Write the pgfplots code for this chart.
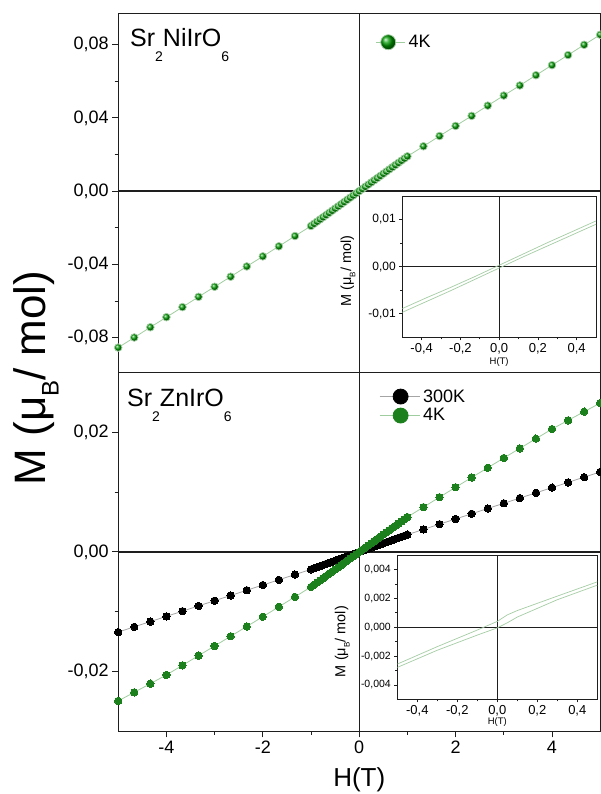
\documentclass[border=0pt]{standalone}
\usepackage{pgfplots}
\pgfplotsset{compat=1.18}
\usepackage{pgfplotstable}
\usepackage{fontspec}
\setmainfont{Liberation Sans}
\setsansfont{Liberation Sans}
\definecolor{ngreen}{RGB}{28,128,28}
\definecolor{bgreen}{RGB}{0,155,0}
\definecolor{lgreen}{RGB}{160,205,160}
\definecolor{igreen}{RGB}{165,205,165}
\definecolor{lgray}{RGB}{165,165,165}
\definecolor{axcol}{RGB}{30,30,30}

\pgfplotstableread{
H M
-5 -0.0854
-4.667 -0.0799
-4.333 -0.0743
-4 -0.0688
-3.667 -0.0633
-3.333 -0.0577
-3 -0.0522
-2.667 -0.0467
-2.333 -0.0411
-2 -0.0356
-1.667 -0.0301
-1.333 -0.0245
-1 -0.0190
-0.9375 -0.01781
-0.875 -0.01663
-0.8125 -0.01544
-0.75 -0.01425
-0.6875 -0.01306
-0.625 -0.01188
-0.5625 -0.01069
-0.5 -0.0095
-0.4375 -0.00831
-0.375 -0.00713
-0.3125 -0.00594
-0.25 -0.00475
-0.1875 -0.00356
-0.125 -0.00238
-0.0625 -0.00119
0 0
0.0625 0.00119
0.125 0.00238
0.1875 0.00356
0.25 0.00475
0.3125 0.00594
0.375 0.00713
0.4375 0.00831
0.5 0.0095
0.5625 0.01069
0.625 0.01188
0.6875 0.01306
0.75 0.01425
0.8125 0.01544
0.875 0.01663
0.9375 0.01781
1 0.0190
1.333 0.0245
1.667 0.0301
2 0.0356
2.333 0.0411
2.667 0.0467
3 0.0522
3.333 0.0577
3.667 0.0633
4 0.0688
4.333 0.0743
4.667 0.0799
5 0.0854
}\niK

\pgfplotstableread{
H M
-5 -0.01338
-4.667 -0.01251
-4.333 -0.01163
-4 -0.01076
-3.667 -0.00989
-3.333 -0.00901
-3 -0.00814
-2.667 -0.00727
-2.333 -0.00639
-2 -0.00552
-1.667 -0.00465
-1.333 -0.00377
-1 -0.0029
-0.9375 -0.00272
-0.875 -0.00254
-0.8125 -0.00236
-0.75 -0.00218
-0.6875 -0.00199
-0.625 -0.00181
-0.5625 -0.00163
-0.5 -0.00145
-0.4375 -0.00127
-0.375 -0.00109
-0.3125 -0.00091
-0.25 -0.00073
-0.1875 -0.00054
-0.125 -0.00036
-0.0625 -0.00018
0 0
0.0625 0.00018
0.125 0.00036
0.1875 0.00054
0.25 0.00073
0.3125 0.00091
0.375 0.00109
0.4375 0.00127
0.5 0.00145
0.5625 0.00163
0.625 0.00181
0.6875 0.00199
0.75 0.00218
0.8125 0.00236
0.875 0.00254
0.9375 0.00272
1 0.0029
1.333 0.00377
1.667 0.00465
2 0.00552
2.333 0.00639
2.667 0.00727
3 0.00814
3.333 0.00901
3.667 0.00989
4 0.01076
4.333 0.01163
4.667 0.01251
5 0.01338
}\znH

\pgfplotstableread{
H M
-5 -0.02489
-4.667 -0.02345
-4.333 -0.02200
-4 -0.02055
-3.667 -0.01894
-3.333 -0.01732
-3 -0.01571
-2.667 -0.01408
-2.333 -0.01245
-2 -0.01082
-1.667 -0.00916
-1.333 -0.0075
-1 -0.00584
-0.9375 -0.00548
-0.875 -0.00511
-0.8125 -0.00475
-0.75 -0.00438
-0.6875 -0.00402
-0.625 -0.00365
-0.5625 -0.00329
-0.5 -0.00292
-0.4375 -0.00256
-0.375 -0.00219
-0.3125 -0.00183
-0.25 -0.00146
-0.1875 -0.0011
-0.125 -0.00073
-0.0625 -0.00037
0 0
0.0625 0.00037
0.125 0.00073
0.1875 0.0011
0.25 0.00146
0.3125 0.00183
0.375 0.00219
0.4375 0.00256
0.5 0.00292
0.5625 0.00329
0.625 0.00365
0.6875 0.00402
0.75 0.00438
0.8125 0.00475
0.875 0.00511
0.9375 0.00548
1 0.00584
1.333 0.0075
1.667 0.00916
2 0.01082
2.333 0.01245
2.667 0.01408
3 0.01571
3.333 0.01732
3.667 0.01894
4 0.02055
4.333 0.02200
4.667 0.02345
5 0.02489
}\znK

\pgfplotsset{
  mainax/.style={
    scale only axis, width=482pt, height=359pt,
    xmin=-5, xmax=5,
    axis line style={axcol, line width=1.4pt},
    tick style={axcol, line width=1pt},
    tick align=outside, xtick pos=bottom, ytick pos=left,
    major tick length=6pt, minor tick length=3.5pt, minor tick num=1,
    tick label style={font=\fontsize{18}{18}\selectfont},
    scaled y ticks=false, scaled x ticks=false,
  },
  insetax/.style={
    scale only axis, xmin=-0.5, xmax=0.5,
    axis background/.style={fill=white},
    axis line style={axcol, line width=0.8pt},
    tick style={axcol, line width=0.6pt},
    tick align=outside, xtick pos=bottom, ytick pos=left,
    major tick length=3pt, minor tick length=2pt, minor tick num=1,
    xtick={-0.4,-0.2,0,0.2,0.4},
    xticklabels={{-0,4},{-0,2},{0,0},{0,2},{0,4}},
    xticklabel style={font=\fontsize{13}{13}\selectfont},
    scaled y ticks=false, scaled x ticks=false,
    xlabel={H(T)},
    xlabel style={font=\fontsize{9.5}{9.5}\selectfont, at={(axis description cs:0.5,-0.175)}, anchor=center},
  }
}

\begin{document}
\begin{tikzpicture}
\path[use as bounding box] (0,0) rectangle (600pt,794pt);

% ---------- top panel: Sr2NiIrO6 ----------
\begin{axis}[mainax,
  at={(118.2pt,421.5pt)}, anchor=south west,
  ymin=-0.099, ymax=0.097,
  xtick=\empty, minor xtick=\empty,
  ytick={-0.08,-0.04,0,0.04,0.08},
  yticklabels={{-0,08},{-0,04},{0,00},{0,04},{0,08}},
  legend cell align=left,
  legend style={at={(axis cs:0.34,0.0813)}, anchor=west, draw=none, fill=none,
    inner xsep=0pt, inner ysep=0pt, font=\fontsize{18}{18}\selectfont,
    nodes={inner xsep=3pt}},
]
\draw[axcol, line width=1.4pt] (axis cs:0,-0.099) -- (axis cs:0,0.097);
\draw[axcol, line width=1.4pt] (axis cs:-5,0) -- (axis cs:5,0);
\addplot[color=lgreen, line width=0.8pt, mark=ball, mark size=3.8pt,
  mark options={ball color=bgreen},
  legend image code/.code={
    \draw[lgreen, line width=0.9pt] (0pt,0pt) -- (29pt,0pt);
    \shade[ball color=bgreen] (12pt,0pt) circle (7.5pt);}
] table[x=H, y=M] {\niK};
\addlegendentry{4K}
\end{axis}

% ---------- bottom panel: Sr2ZnIrO6 ----------
\begin{axis}[mainax,
  at={(118.2pt,62.5pt)}, anchor=south west,
  ymin=-0.03, ymax=0.03,
  xtick={-4,-2,0,2,4},
  xticklabels={-4,-2,0,2,4},
  ytick={-0.02,0,0.02},
  yticklabels={{-0,02},{0,00},{0,02}},
  legend cell align=left,
  legend style={at={(axis cs:0.41,0.0244)}, anchor=west, draw=none, fill=none,
    inner xsep=0pt, inner ysep=0pt, font=\fontsize{18}{18}\selectfont,
    row sep=3pt, nodes={inner xsep=3pt, inner ysep=1pt}},
]
\draw[axcol, line width=1.4pt] (axis cs:0,-0.03) -- (axis cs:0,0.03);
\draw[axcol, line width=1.4pt] (axis cs:-5,0) -- (axis cs:5,0);
\addplot[color=lgray, line width=0.8pt, mark=*, mark size=3.7pt,
  mark options={fill=black, draw=black, line width=0pt},
  legend image code/.code={
    \draw[lgray, line width=0.9pt] (0pt,0pt) -- (40pt,0pt);
    \fill[black] (21pt,0pt) circle (7.5pt);}
] table[x=H, y=M] {\znH};
\addlegendentry{300K}
\addplot[color=lgreen, line width=0.8pt, mark=*, mark size=3.7pt,
  mark options={fill=ngreen, draw=ngreen, line width=0pt},
  legend image code/.code={
    \draw[lgreen, line width=0.9pt] (0pt,0pt) -- (40pt,0pt);
    \fill[ngreen] (21pt,0pt) circle (7.5pt);}
] table[x=H, y=M] {\znK};
\addlegendentry{4K}
\end{axis}

% ---------- top inset ----------
\begin{axis}[insetax,
  at={(402.3pt,456.7pt)}, anchor=south west, width=193.7pt, height=141.3pt,
  ymin=-0.015, ymax=0.015,
  ytick={-0.01,0,0.01},
  yticklabels={{-0,01},{0,00},{0,01}},
  yticklabel style={font=\fontsize{12}{12}\selectfont},
  ylabel={M (μ\raisebox{-0.3em}{\fontsize{8}{8}\selectfont B}/ mol)},
  ylabel style={font=\fontsize{14.5}{14.5}\selectfont, at={(axis description cs:-0.28,0.47)}, anchor=center},
]
\draw[axcol, line width=0.7pt] (axis cs:0,-0.015) -- (axis cs:0,0.015);
\draw[axcol, line width=0.7pt] (axis cs:-0.5,0) -- (axis cs:0.5,0);
\addplot[igreen, line width=0.7pt] coordinates {
(-0.5,-0.0089) (-0.375,-0.0066) (-0.25,-0.0044) (-0.125,-0.0021) (0,0.0003)
(0.125,0.0027) (0.25,0.0051) (0.375,0.0074) (0.5,0.0097)};
\addplot[igreen, line width=0.7pt] coordinates {
(-0.5,-0.0097) (-0.375,-0.0074) (-0.25,-0.0051) (-0.125,-0.0027) (0,-0.0003)
(0.125,0.0021) (0.25,0.0044) (0.375,0.0067) (0.5,0.0090)};
\end{axis}

% ---------- bottom inset ----------
\begin{axis}[insetax,
  at={(397.3pt,94.7pt)}, anchor=south west, width=200pt, height=144.3pt,
  ymin=-0.005, ymax=0.005,
  ytick={-0.004,-0.002,0,0.002,0.004},
  yticklabels={{-0,004},{-0,002},{0,000},{0,002},{0,004}},
  yticklabel style={font=\fontsize{10.5}{10.5}\selectfont},
  xlabel style={at={(axis description cs:0.5,-0.155)}},
  ylabel={M (μ\raisebox{-0.3em}{\fontsize{8}{8}\selectfont B}/ mol)},
  ylabel style={font=\fontsize{14.5}{14.5}\selectfont, at={(axis description cs:-0.275,0.4)}, anchor=center},
]
\draw[axcol, line width=0.7pt] (axis cs:0,-0.005) -- (axis cs:0,0.005);
\draw[axcol, line width=0.7pt] (axis cs:-0.5,0) -- (axis cs:0.5,0);
\addplot[igreen, line width=0.7pt] coordinates {
(-0.5,-0.00256) (-0.3,-0.00135) (-0.1,-0.0002) (0,0.0004) (0.05,0.00085)
(0.1,0.00115) (0.3,0.00215) (0.5,0.00314)};
\addplot[igreen, line width=0.7pt] coordinates {
(-0.5,-0.00279) (-0.3,-0.0016) (-0.1,-0.00055) (0,-0.00005) (0.05,0.0003)
(0.1,0.0007) (0.3,0.0019) (0.5,0.00291)};
\end{axis}

% ---------- titles and axis labels ----------
\node[anchor=base west, font=\fontsize{25}{25}\selectfont, inner sep=0pt] at (130pt,747pt)
  {Sr\raisebox{-15pt}{\fontsize{14}{14}\selectfont 2}NiIrO\raisebox{-15pt}{\fontsize{14}{14}\selectfont 6}};
\node[anchor=base west, font=\fontsize{25}{25}\selectfont, inner sep=0pt] at (127pt,387.5pt)
  {Sr\raisebox{-15pt}{\fontsize{14}{14}\selectfont 2}ZnIrO\raisebox{-15pt}{\fontsize{14}{14}\selectfont 6}};
\node[rotate=90, font=\fontsize{44}{44}\selectfont, inner sep=0pt] at (36pt,416pt)
  {M (μ\raisebox{-0.3em}{\fontsize{24}{24}\selectfont B}/ mol)};
\node[font=\fontsize{26}{26}\selectfont, inner sep=0pt] at (359.3pt,14pt) {H(T)};
\end{tikzpicture}
\end{document}
